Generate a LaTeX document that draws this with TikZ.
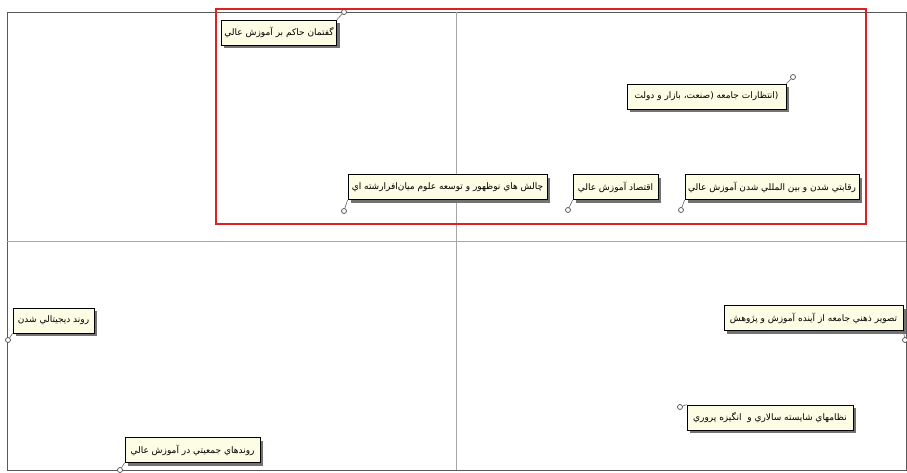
\documentclass[tikz,border=0pt]{standalone}
\usepackage{fontspec}
\newfontfamily\arabicfont[Script=Arabic]{DejaVu Sans}
\TeXXeTstate=1
\usetikzlibrary{shadows}
\definecolor{boxfill}{RGB}{252,253,228}
\definecolor{framered}{RGB}{222,32,32}
\tikzset{
  lbl/.style={draw=black, line width=0.8pt, fill=boxfill, minimum height=25pt,
    inner xsep=3pt, inner ysep=2pt, font=\arabicfont\fontsize{9}{11}\selectfont,
    drop shadow={shadow xshift=3pt, shadow yshift=-3pt, fill=black!55, opacity=1}},
  pinc/.style={circle, draw=black!70, fill=white, line width=0.7pt, minimum size=5pt, inner sep=0pt},
  pinline/.style={draw=black!60, line width=0.6pt},
  axisline/.style={draw=black!35, line width=0.6pt},
}
\begin{document}
\begin{tikzpicture}[x=1pt,y=-1pt]
\useasboundingbox[fill=white] (0,0) rectangle (907,472);
% frame and axes
\draw[draw=black!65, line width=0.9pt] (7,12) rectangle (906,470);
\draw[axisline] (456,12) -- (456,470);
\draw[axisline] (7,241) -- (906,241);
% red highlight
\draw[draw=framered, line width=2.5pt] (216,9) rectangle (866,224);
% labels
\node[lbl, minimum width=114pt] (n1) at (279,32.5) {\beginR گفتمان حاكم بر آموزش عالي\endR};
\node[lbl, minimum width=159pt] (n2) at (706.5,96.5) {\beginR (انتظارات جامعه (صنعت، بازار و دولت\endR};
\node[lbl, minimum width=199pt] (n3) at (447.5,187) {\beginR چالش هاي نوظهور و توسعه علوم ميان‌افرارشته اي\endR};
\node[lbl, minimum width=85pt] (n4) at (615.5,187) {\beginR اقتصاد آموزش عالي\endR};
\node[lbl, minimum width=174pt] (n5) at (772,187) {\beginR رقابتي شدن و بين المللي شدن آموزش عالي\endR};
\node[lbl, minimum width=81pt] (n6) at (53.5,320.5) {\beginR روند ديجيتالي شدن\endR};
\node[lbl, minimum width=179pt] (n7) at (813.5,318) {\beginR تصوير ذهني جامعه از آينده آموزش و پژوهش\endR};
\node[lbl, minimum width=166pt] (n8) at (770,417.5) {\beginR نظامهاي شايسته سالاري و\ \ انگيزه پروري\endR};
\node[lbl, minimum width=135pt] (n9) at (192.5,450) {\beginR روندهاي جمعيتي در آموزش عالي\endR};
% pins
\node[pinc] (p1) at (344,12) {};
\node[pinc] (p2) at (793,77) {};
\node[pinc] (p3) at (344,211) {};
\node[pinc] (p4) at (568,210) {};
\node[pinc] (p5) at (681,210) {};
\node[pinc] (p6) at (8,340) {};
\node[pinc] (p7) at (905,340) {};
\node[pinc] (p8) at (680,407) {};
\node[pinc] (p9) at (120,470) {};
\draw[pinline] (n1.north east) -- (p1);
\draw[pinline] (n2.north east) -- (p2);
\draw[pinline] (n3.south west) -- (p3);
\draw[pinline] (n4.south west) -- (p4);
\draw[pinline] (n5.south west) -- (p5);
\draw[pinline] (n6.south west) -- (p6);
\draw[pinline] (n7.south east) -- (p7);
\draw[pinline] (n8.north west) -- (p8);
\draw[pinline] (n9.south west) -- (p9);
\end{tikzpicture}
\end{document}
